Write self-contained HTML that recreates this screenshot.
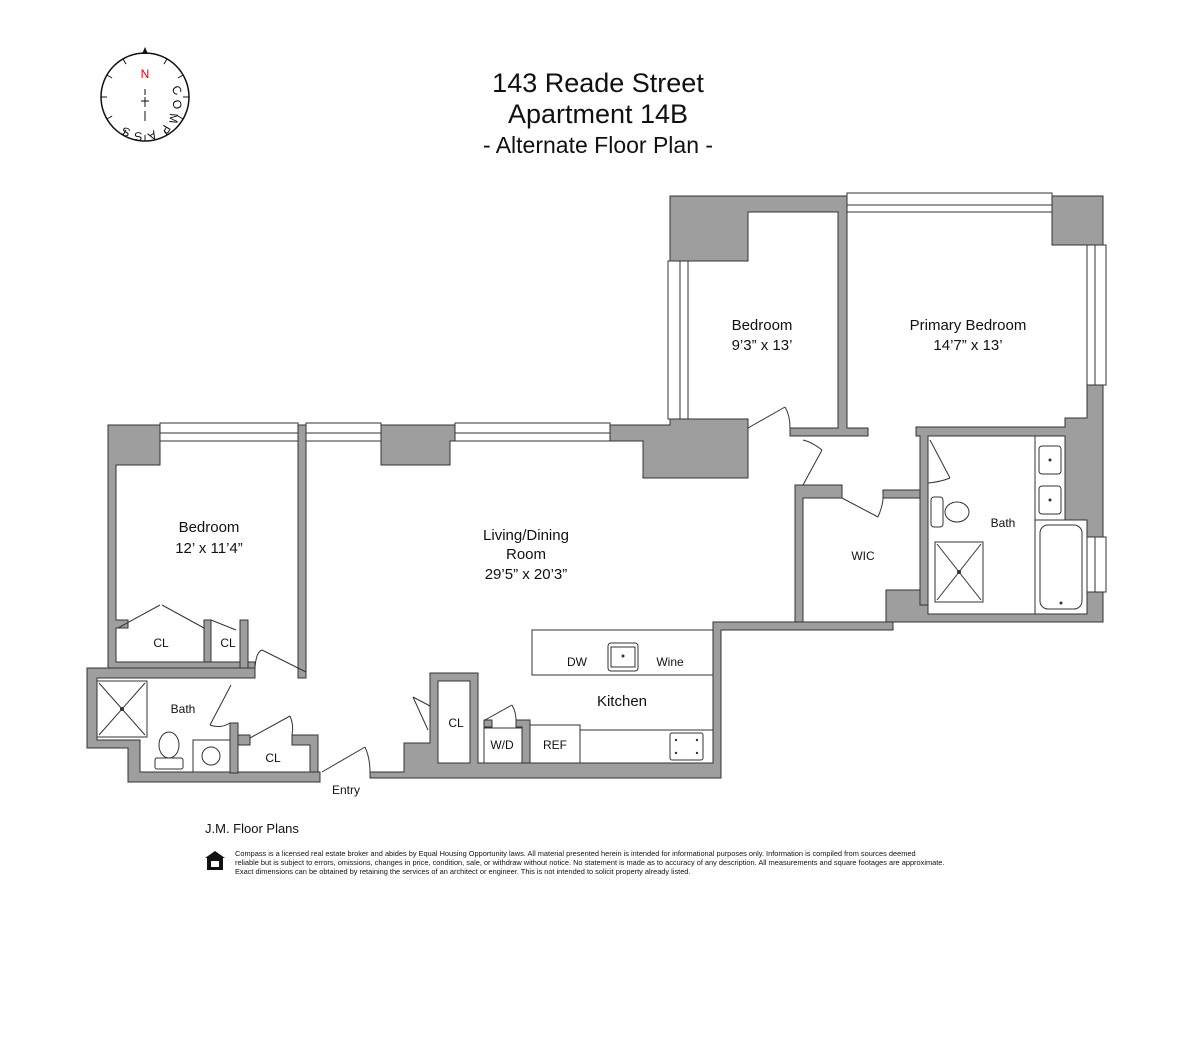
<!DOCTYPE html>
<html><head><meta charset="utf-8"><style>
body{margin:0;background:#fff;width:1200px;height:1041px;overflow:hidden}
svg{display:block}
text{font-family:"Liberation Sans",Arial,sans-serif;fill:#111}
.w{fill:#9e9e9e;stroke:#333;stroke-width:1}
.l{fill:none;stroke:#333;stroke-width:1}
.f{fill:#fff;stroke:#333;stroke-width:1}
</style></head><body>
<svg width="1200" height="1041" viewBox="0 0 1200 1041" xmlns="http://www.w3.org/2000/svg">
<!-- title -->
<text x="598" y="92" font-size="27" text-anchor="middle">143 Reade Street</text>
<text x="598" y="123" font-size="27" text-anchor="middle">Apartment 14B</text>
<text x="598" y="153" font-size="23" text-anchor="middle">- Alternate Floor Plan -</text>
<!-- compass -->
<g transform="translate(145,97)">
<circle r="44" fill="none" stroke="#111" stroke-width="1.5"/>
<g stroke="#111" stroke-width="1">
<line x1="0" y1="-44" x2="0" y2="-38" transform="rotate(30)"/><line x1="0" y1="-44" x2="0" y2="-38" transform="rotate(60)"/><line x1="0" y1="-44" x2="0" y2="-38" transform="rotate(90)"/><line x1="0" y1="-44" x2="0" y2="-38" transform="rotate(120)"/><line x1="0" y1="-44" x2="0" y2="-38" transform="rotate(150)"/><line x1="0" y1="-44" x2="0" y2="-38" transform="rotate(180)"/><line x1="0" y1="-44" x2="0" y2="-38" transform="rotate(210)"/><line x1="0" y1="-44" x2="0" y2="-38" transform="rotate(240)"/><line x1="0" y1="-44" x2="0" y2="-38" transform="rotate(270)"/><line x1="0" y1="-44" x2="0" y2="-38" transform="rotate(300)"/><line x1="0" y1="-44" x2="0" y2="-38" transform="rotate(330)"/>
<line x1="0" y1="-8" x2="0" y2="-2"/><line x1="0" y1="0" x2="0" y2="10"/><line x1="-4" y1="4" x2="4" y2="4"/><line x1="0" y1="14" x2="0" y2="24"/>
</g>
<polygon points="0,-50 -3,-43 3,-43" fill="#111"/>
<text x="0" y="-19" font-size="12" text-anchor="middle" style="fill:#e00">N</text>
<text x="26" y="-8" font-size="12" transform="rotate(55 26 -8)">C</text>
<text x="27" y="4" font-size="12" transform="rotate(75 27 4)">O</text>
<text x="25" y="16" font-size="12" transform="rotate(95 25 16)">M</text>
<text x="19" y="27" font-size="12" transform="rotate(120 19 27)">P</text>
<text x="9" y="33" font-size="12" transform="rotate(150 9 33)">A</text>
<text x="-3" y="35" font-size="12" transform="rotate(175 -3 35)">S</text>
<text x="-14" y="32" font-size="12" transform="rotate(195 -14 32)">S</text>
</g>

<!-- windows -->
<g class="f">
<rect x="160" y="423" width="138" height="18"/><line class="l" x1="160" y1="433" x2="298" y2="433"/>
<rect x="306" y="423" width="75" height="18"/><line class="l" x1="306" y1="433" x2="381" y2="433"/>
<rect x="455" y="423" width="155" height="18"/><line class="l" x1="455" y1="433" x2="610" y2="433"/>
<rect x="668" y="261" width="20" height="158"/><line class="l" x1="680" y1="261" x2="680" y2="419"/>
<rect x="847" y="193" width="205" height="19"/><line class="l" x1="847" y1="205" x2="1052" y2="205"/>
<rect x="1087" y="245" width="19" height="140"/><line class="l" x1="1095" y1="245" x2="1095" y2="385"/>
<rect x="1087" y="537" width="19" height="55"/><line class="l" x1="1095" y1="537" x2="1095" y2="592"/>
</g>

<!-- walls -->
<g class="w">
<polygon points="108,425 160,425 160,465 116,465 116,620 128,620 128,628 116,628 116,662 255,662 255,670 87,670 87,668 108,668"/>
<rect x="298" y="425" width="8" height="253"/>
<polygon points="204,620 211,620 211,662 204,662"/>
<polygon points="240,620 248,620 248,670 240,670"/>
<polygon points="87,668 255,668 255,678 97,678 97,740 140,740 140,772 320,772 320,782 128,782 128,748 87,748"/>
<rect x="230" y="723" width="8" height="50"/>
<polygon points="238,735 250,735 250,745 238,745"/>
<polygon points="292,735 318,735 318,772 310,772 310,745 292,745"/>
<polygon points="381,425 455,425 455,441 450,441 450,465 381,465"/>
<polygon points="610,425 670,425 670,419 748,419 748,478 643,478 643,441 610,441"/>
<polygon points="370,772 404,772 404,743 430,743 430,673 478,673 478,763 484,763 484,720 492,720 492,727 484,727 484,763 713,763 713,622 893,622 893,630 721,630 721,778 370,778"/>
<polygon points="516,720 530,720 530,763 522,763 522,727 516,727"/>
<rect x="438" y="681" width="32" height="82" fill="#fff"/>
<polygon points="670,196 847,196 847,428 868,428 868,436 790,436 790,428 838,428 838,212 748,212 748,261 670,261"/>
<polygon points="1052,196 1103,196 1103,245 1052,245"/>
<polygon points="1087,385 1103,385 1103,537 1087,537 1087,520 1065,520 1065,436 928,436 928,605 920,605 920,436 916,436 916,427 1065,427 1065,418 1087,418"/>
<polygon points="1087,592 1103,592 1103,622 886,622 886,590 920,590 920,605 928,605 928,614 1087,614"/>
<polygon points="795,485 842,485 842,498 803,498 803,622 795,622"/>
<polygon points="883,490 920,490 920,498 883,498"/>
</g>

<!-- doors -->
<g class="l">
<line x1="118" y1="628" x2="160" y2="605"/><line x1="204" y1="628" x2="162" y2="605"/>
<line x1="211" y1="620" x2="236" y2="630"/>
<line x1="306" y1="672" x2="262" y2="650"/><path d="M255,668 Q256,652 262,650"/>
<line x1="231" y1="685" x2="210" y2="725"/><path d="M210,725 Q220,729 230,723"/>
<line x1="250" y1="738" x2="290" y2="716"/><path d="M290,716 Q294,725 292,735"/>
<line x1="322" y1="772" x2="365" y2="747"/><path d="M365,747 Q370,758 370,772"/>
<line x1="430" y1="706" x2="413" y2="697"/><line x1="413" y1="697" x2="428" y2="730"/>
<line x1="485" y1="720" x2="512" y2="705"/><path d="M512,705 Q516,712 516,720"/>
<line x1="748" y1="428" x2="785" y2="407"/><path d="M785,407 Q790,415 790,428"/>
<line x1="803" y1="485" x2="822" y2="450"/><path d="M822,450 Q812,442 803,440"/>
<line x1="842" y1="498" x2="878" y2="517"/><path d="M878,517 Q883,505 883,498"/>
<line x1="930" y1="440" x2="950" y2="478"/><path d="M950,478 Q940,482 928,483"/>
</g>

<!-- fixtures -->
<g class="f">
<rect x="97" y="681" width="50" height="56"/>
<line class="l" x1="99" y1="683" x2="145" y2="735"/><line class="l" x1="145" y1="683" x2="99" y2="735"/>
<ellipse cx="169" cy="745" rx="10" ry="13"/><rect x="155" y="758" width="28" height="11" rx="2"/>
<rect x="193" y="740" width="37" height="32"/><circle cx="211" cy="756" r="9"/>
<rect x="532" y="630" width="181" height="45"/>
<rect x="608" y="643" width="30" height="28" rx="3"/><rect x="611" y="647" width="24" height="20"/>
<rect x="484" y="728" width="38" height="35"/>
<rect x="530" y="725" width="50" height="38"/>
<rect x="580" y="730" width="133" height="33"/>
<rect x="670" y="733" width="33" height="27" rx="2"/>
<rect x="935" y="542" width="48" height="60"/>
<line class="l" x1="937" y1="544" x2="981" y2="600"/><line class="l" x1="981" y1="544" x2="937" y2="600"/>
<rect x="931" y="497" width="12" height="30" rx="3"/><ellipse cx="957" cy="512" rx="12" ry="10"/>
<rect x="1035" y="436" width="30" height="84"/>
<rect x="1039" y="446" width="22" height="28" rx="3"/><rect x="1039" y="486" width="22" height="28" rx="3"/>
<rect x="1035" y="520" width="52" height="94"/><rect x="1040" y="525" width="42" height="84" rx="8"/>
</g>
<g fill="#333"><circle cx="623" cy="656" r="1.5"/><circle cx="676" cy="740" r="1.2"/><circle cx="676" cy="753" r="1.2"/><circle cx="697" cy="740" r="1.2"/><circle cx="697" cy="753" r="1.2"/><circle cx="1050" cy="460" r="1.5"/><circle cx="1050" cy="500" r="1.5"/><circle cx="1061" cy="603" r="1.5"/><circle cx="959" cy="572" r="2"/><circle cx="122" cy="709" r="2"/></g>

<!-- labels -->
<g font-size="15" text-anchor="middle">
<text x="209" y="532">Bedroom</text><text x="209" y="553">12’ x 11’4”</text>
<text x="526" y="540">Living/Dining</text><text x="526" y="559">Room</text><text x="526" y="579">29’5” x 20’3”</text>
<text x="762" y="330">Bedroom</text><text x="762" y="350">9’3” x 13’</text>
<text x="968" y="330">Primary Bedroom</text><text x="968" y="350">14’7” x 13’</text>
<text x="622" y="706">Kitchen</text>
</g>
<g font-size="12" text-anchor="middle">
<text x="161" y="647">CL</text><text x="228" y="647">CL</text><text x="183" y="713">Bath</text>
<text x="273" y="762">CL</text><text x="456" y="727">CL</text><text x="502" y="749">W/D</text><text x="555" y="749">REF</text>
<text x="577" y="666">DW</text><text x="670" y="666">Wine</text>
<text x="863" y="560">WIC</text><text x="1003" y="527">Bath</text>
<text x="346" y="794">Entry</text>
</g>
<text x="205" y="833" font-size="13">J.M. Floor Plans</text>
<g transform="translate(205,851)"><polygon points="0,7 10,0 20,7" fill="#111"/><rect x="2" y="7" width="16" height="12" fill="#111"/><rect x="6" y="10" width="8" height="6" fill="#fff"/></g>
<g font-size="7.4" style="font-family:'Liberation Sans Narrow','Liberation Sans',sans-serif">
<text x="235" y="856">Compass is a licensed real estate broker and abides by Equal Housing Opportunity laws. All material presented herein is intended for informational purposes only. Information is compiled from sources deemed</text>
<text x="235" y="865">reliable but is subject to errors, omissions, changes in price, condition, sale, or withdraw without notice. No statement is made as to accuracy of any description. All measurements and square footages are approximate.</text>
<text x="235" y="874">Exact dimensions can be obtained by retaining the services of an architect or engineer. This is not intended to solicit property already listed.</text>
</g>
</svg>
</body></html>
